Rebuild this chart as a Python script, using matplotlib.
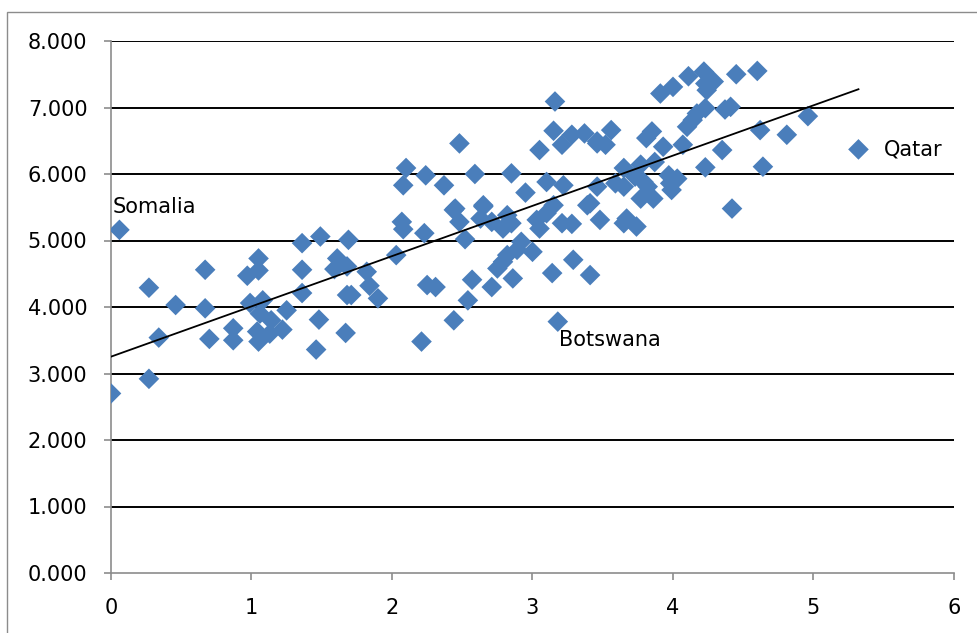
import numpy as np
import matplotlib
matplotlib.use("Agg")
import matplotlib.pyplot as plt
from matplotlib.patches import Rectangle

# Country scores: x = predictor, y = outcome
x_vals = [
    0.00, 0.06, 0.27, 0.27, 0.34, 0.46, 0.67, 0.67, 0.70, 0.87, 0.87, 0.97,
    1.05, 1.05, 0.99, 1.08, 1.06, 1.14, 1.05, 1.04, 1.13, 1.22, 1.25, 1.36,
    1.36, 1.36, 1.49, 1.48, 1.46, 1.61, 1.59, 1.69, 1.68, 1.68, 1.67, 1.71,
    1.82, 1.84, 1.90, 2.03, 2.07, 2.08, 2.23, 2.44, 2.48, 2.52, 2.65, 2.63,
    2.71, 2.82, 2.79, 2.85, 2.92, 2.89, 2.82, 2.79, 2.75, 3.00, 2.86, 2.71,
    2.57, 2.54, 2.44, 2.21, 2.25, 2.31, 3.03, 3.05, 3.10, 3.15, 3.21, 3.28,
    3.29, 3.14, 3.41, 3.18, 3.39, 3.16, 3.15, 3.28, 3.37, 3.21, 3.46, 3.05,
    2.48, 2.10, 2.08, 2.24, 2.37, 2.59, 2.85, 2.95, 3.10, 3.22, 2.45, 2.65,
    3.91, 4.00, 4.11, 4.22, 4.23, 4.29, 4.24, 4.45, 4.60, 4.23, 4.17, 4.37,
    4.41, 4.10, 4.14, 3.85, 3.81, 3.56, 3.46, 3.52, 3.93, 4.07, 4.62, 4.81,
    4.96, 4.35, 4.23, 4.64, 3.87, 3.65, 3.77, 3.97, 4.03, 3.98, 3.82, 3.79,
    3.46, 3.59, 3.65, 3.73, 3.48, 3.67, 3.74, 3.65, 4.42, 3.77, 3.86, 3.41,
    3.99, 5.32,
]
y_vals = [
    2.70, 5.16, 4.29, 2.92, 3.54, 4.03, 4.56, 3.98, 3.52, 3.68, 3.50, 4.47,
    4.73, 4.55, 4.06, 4.10, 3.90, 3.80, 3.48, 3.63, 3.60, 3.66, 3.95, 4.96,
    4.56, 4.21, 5.06, 3.81, 3.36, 4.73, 4.57, 5.01, 4.61, 4.18, 3.61, 4.18,
    4.53, 4.32, 4.13, 4.78, 5.28, 5.17, 5.11, 5.46, 5.28, 5.02, 5.51, 5.33,
    5.28, 5.38, 5.18, 5.26, 4.98, 4.86, 4.78, 4.68, 4.58, 4.83, 4.43, 4.30,
    4.41, 4.10, 3.80, 3.48, 4.33, 4.30, 5.31, 5.18, 5.41, 5.53, 5.26, 5.25,
    4.71, 4.51, 4.48, 3.78, 5.53, 7.09, 6.65, 6.59, 6.61, 6.44, 6.46, 6.36,
    6.46, 6.09, 5.83, 5.98, 5.83, 6.00, 6.01, 5.72, 5.88, 5.83, 5.48, 5.53,
    7.21, 7.31, 7.47, 7.54, 7.36, 7.39, 7.26, 7.50, 7.55, 6.99, 6.91, 6.97,
    7.01, 6.71, 6.81, 6.64, 6.54, 6.66, 6.49, 6.44, 6.41, 6.44, 6.66, 6.59,
    6.87, 6.36, 6.10, 6.11, 6.18, 6.09, 6.14, 5.98, 5.93, 5.86, 5.81, 5.88,
    5.81, 5.86, 5.81, 5.96, 5.31, 5.33, 5.21, 5.26, 5.48, 5.63, 5.63, 5.56,
    5.76, 6.37,
]

# Named countries and where their labels go
label_names = ["Somalia", "Botswana", "Qatar"]
label_pos = [(0.01, 5.50), (3.19, 3.50), (5.50, 6.37)]

x_ticks = [0, 1, 2, 3, 4, 5, 6]
y_ticks = [0, 1, 2, 3, 4, 5, 6, 7, 8]

blue = "#4a7ebb"
axis_grey = "#8c8c8c"
font = ["DejaVu Sans"]
fsize = 15

fig = plt.figure(figsize=(9.78, 6.33), dpi=100)
W, H = 978, 633
ax = fig.add_axes([111 / W, 1 - 573 / H, (954 - 111) / W, (573 - 41) / H])

# chart-area frame (left and top edges visible)
fig.add_artist(Rectangle((7 / W, -0.1), 1.2, 1 - 12 / H + 0.1,
                         transform=fig.transFigure, fill=False,
                         edgecolor=axis_grey, lw=1.0))

x = np.array(x_vals)
y = np.array(y_vals)

# horizontal grid
for yt in y_ticks[1:]:
    ax.axhline(yt, color="black", lw=1.4, zorder=1)

ax.scatter(x, y, marker="D", s=10.5 ** 2, color=blue, edgecolors="none",
           zorder=3)

# linear trend across the data range
slope, intercept = np.polyfit(x, y, 1)
xt = np.array([0.0, x.max()])
ax.plot(xt, intercept + slope * xt, color="black", lw=1.3, zorder=4)

for name, (lx, ly) in zip(label_names, label_pos):
    ax.text(lx, ly, name, fontsize=fsize, family=font, ha="left",
            va="center", zorder=5)

ax.set_xlim(0, 6)
ax.set_ylim(0, 8)
ax.set_xticks(x_ticks)
ax.set_yticks(y_ticks)
ax.set_xticklabels([str(t) for t in x_ticks])
ax.set_yticklabels([f"{t:.3f}" for t in y_ticks])
for lab in ax.get_xticklabels() + ax.get_yticklabels():
    lab.set_fontfamily(font)
    lab.set_fontsize(fsize)

for side in ("top", "right"):
    ax.spines[side].set_visible(False)
for side in ("left", "bottom"):
    ax.spines[side].set_color(axis_grey)
    ax.spines[side].set_linewidth(1.2)
ax.tick_params(axis="both", direction="out", length=5, width=1.2,
               color=axis_grey, labelcolor="black")
ax.tick_params(axis="x", pad=13)
ax.tick_params(axis="y", pad=12)

fig.savefig("out.png", dpi=100)
